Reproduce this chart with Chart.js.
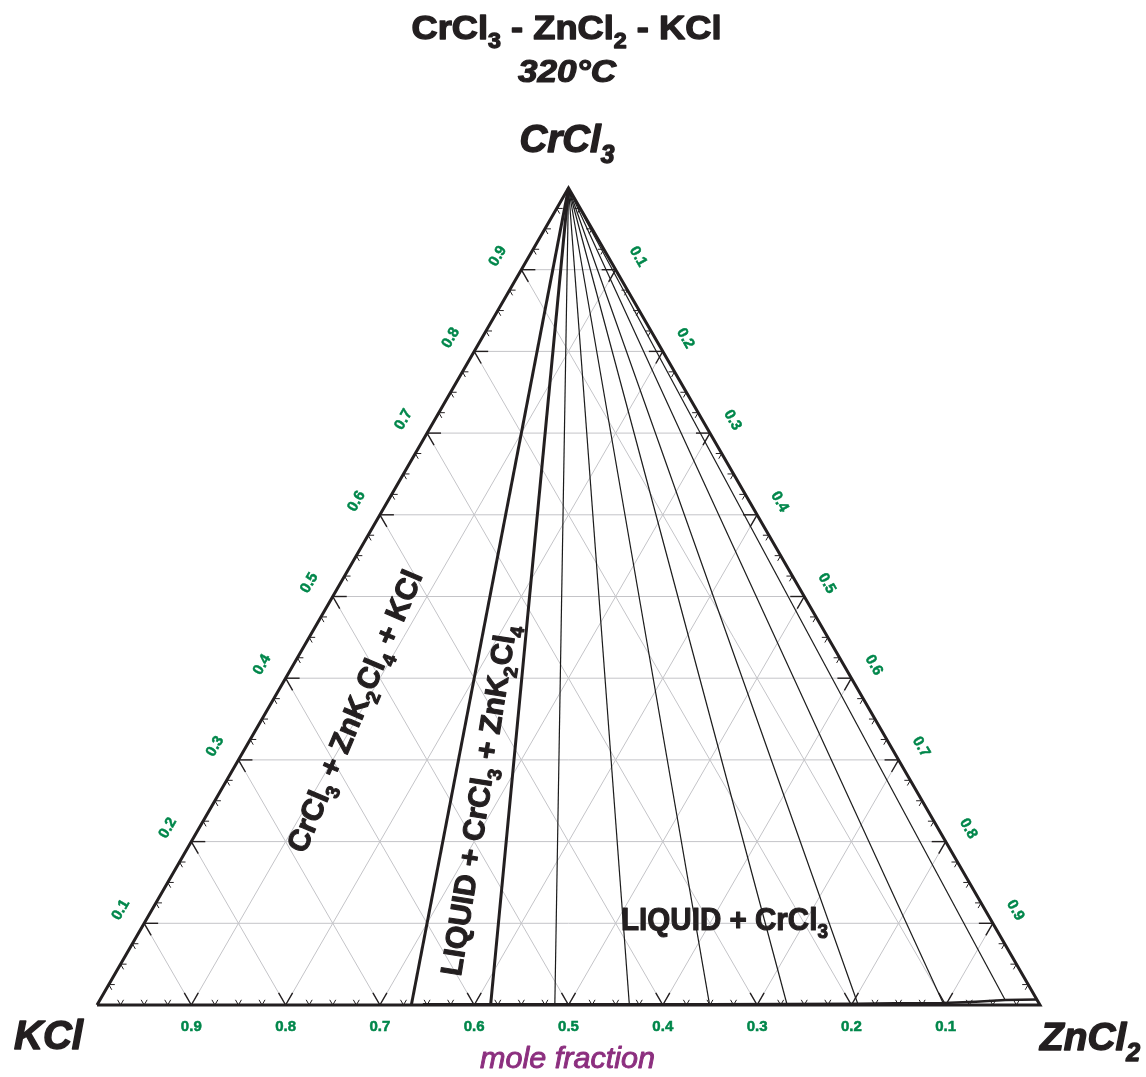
<!DOCTYPE html>
<html>
<head>
<meta charset="utf-8">
<script src="https://cdn.jsdelivr.net/npm/chart.js@4.4.1/dist/chart.umd.min.js"></script>
<style>
  html, body { margin: 0; padding: 0; background: #ffffff; }
  #wrap { width: 1146px; height: 1077px; }
</style>
</head>
<body>
<div id="wrap"><canvas id="c" width="1146" height="1077"></canvas></div>
<script>
// CrCl3 - ZnCl2 - KCl isothermal section at 320 °C
const H = Math.sqrt(3) / 2;

// grid / tick values (mole fraction)
const gridFractions = [0.1, 0.2, 0.3, 0.4, 0.5, 0.6, 0.7, 0.8, 0.9];
const bottomTickLabels = ['0.9', '0.8', '0.7', '0.6', '0.5', '0.4', '0.3', '0.2', '0.1']; // KCl, placed at ZnCl2 = 0.1 … 0.9
const leftTickLabels = ['0.1', '0.2', '0.3', '0.4', '0.5', '0.6', '0.7', '0.8', '0.9'];   // CrCl3 on KCl–CrCl3 side
const rightTickLabels = ['0.1', '0.2', '0.3', '0.4', '0.5', '0.6', '0.7', '0.8', '0.9'];  // ZnCl2 on CrCl3–ZnCl2 side
const minorStep = 0.025;

// liquid boundary near the KCl–ZnCl2 side (x ZnCl2, x CrCl3)
const liquidZn = [0.345, 0.417, 0.485, 0.564, 0.649, 0.731, 0.806, 0.845, 0.896, 0.930, 0.960, 0.993];
const liquidCr = [0.001, 0.001, 0.001, 0.001, 0.001, 0.0012, 0.0015, 0.002, 0.0025, 0.004, 0.0061, 0.0067];

// CrCl3 – liquid tie-lines (liquid end: x ZnCl2, x CrCl3)
const tieZn = [0.485, 0.564, 0.649, 0.731, 0.806, 0.896, 0.960];
const tieCr = [0.001, 0.001, 0.001, 0.0012, 0.0015, 0.0025, 0.0061];

// three-phase triangle CrCl3 + ZnK2Cl4 + LIQUID
const znk2cl4Zn = 1 / 3;
const invariantLiquidZn = 0.417;
const invariantLiquidCr = 0.001;

// composition -> cartesian (KCl at origin, ZnCl2 at x = 1, CrCl3 on top)
const P = (zn, cr) => ({ x: zn + cr / 2, y: cr * H });

const INK = '#231f20';
const GRID = '#c4c4c8';
const GREEN = '#00874b';
const PURPLE = '#8c2f7f';
const FAMILY = '"Liberation Sans", Arial, Helvetica, sans-serif';

function seg(points, color, width, order) {
  return {
    data: points, showLine: true, borderColor: color, borderWidth: width,
    pointRadius: 0, tension: 0, fill: false, clip: false, order: order,
    borderJoinStyle: 'miter', borderCapStyle: 'butt'
  };
}

const datasets = [];
gridFractions.forEach(f => {
  datasets.push(seg([P(0, f), P(1 - f, f)], GRID, 1, 5));      // constant CrCl3
  datasets.push(seg([P(f, 0), P(f, 1 - f)], GRID, 1, 5));      // constant ZnCl2
  datasets.push(seg([P(1 - f, 0), P(0, 1 - f)], GRID, 1, 5));  // constant KCl
});
tieZn.forEach((zn, i) => datasets.push(seg([P(0, 1), P(zn, tieCr[i])], '#1b1b1b', 1.2, 4)));
datasets.push(seg([P(0, 1), P(znk2cl4Zn, 0)], INK, 3, 2));
datasets.push(seg([P(0, 1), P(invariantLiquidZn, invariantLiquidCr)], INK, 3, 2));
datasets.push(seg(liquidZn.map((z, i) => P(z, liquidCr[i])), INK, 2.6, 2));
datasets.push(seg([P(0, 0), P(1, 0), P(0, 1), P(0, 0)], INK, 3, 1));

// text with subscripts; parts = [[text, isSub], ...]
function drawRich(ctx, parts, o) {
  const style = o.style || 'normal';
  const weight = o.weight || 'bold';
  const mainFont = `${style} ${weight} ${o.size}px ${FAMILY}`;
  const subFont = `${style} ${weight} ${o.size * 0.64}px ${FAMILY}`;
  let w = 0;
  const widths = parts.map(p => {
    ctx.font = p[1] ? subFont : mainFont;
    const m = ctx.measureText(p[0]).width;
    w += m;
    return m;
  });
  const sx = o.width ? o.width / w : 1;
  ctx.save();
  ctx.translate(o.x, o.y);
  if (o.rotate) ctx.rotate(o.rotate * Math.PI / 180);
  ctx.scale(sx, 1);
  ctx.fillStyle = o.color || INK;
  ctx.strokeStyle = o.color || INK;
  ctx.lineWidth = o.stroke === undefined ? 1.1 : o.stroke;
  ctx.lineJoin = 'round';
  ctx.textAlign = 'left';
  ctx.textBaseline = 'alphabetic';
  const base = o.middle ? o.size * 0.36 : 0;
  let x = o.align === 'left' ? 0 : -w / 2;
  parts.forEach((p, i) => {
    ctx.font = p[1] ? subFont : mainFont;
    const y = base + (p[1] ? o.size * 0.27 : 0);
    ctx.fillText(p[0], x, y);
    if (ctx.lineWidth > 0) ctx.strokeText(p[0], x, y);
    x += widths[i];
  });
  ctx.restore();
}

const decorations = {
  id: 'ternaryDecorations',
  afterDatasetsDraw(chart) {
    const ctx = chart.ctx;
    const xs = chart.scales.x, ys = chart.scales.y;
    const px = p => ({ x: xs.getPixelForValue(p.x), y: ys.getPixelForValue(p.y) });
    const c60 = 0.5, s60 = H;

    // edge ticks
    ctx.save();
    ctx.strokeStyle = INK;
    ctx.lineCap = 'butt';
    const nSteps = Math.round(1 / minorStep);
    const tick = (p, dirs, len, lw) => {
      ctx.lineWidth = lw;
      dirs.forEach(d => {
        ctx.beginPath();
        ctx.moveTo(p.x, p.y);
        ctx.lineTo(p.x + d[0] * len, p.y + d[1] * len);
        ctx.stroke();
      });
    };
    for (let i = 1; i < nSteps; i++) {
      const f = i * minorStep;
      const major = i % 4 === 0;
      const len = major ? 14 : 6;
      const lw = major ? 1.4 : 1;
      tick(px(P(f, 0)), [[-c60, -s60], [c60, -s60]], len, lw);        // KCl–ZnCl2 side
      tick(px(P(0, f)), [[1, 0], [c60, s60]], len, lw);                // KCl–CrCl3 side
      tick(px(P(f, 1 - f)), [[-1, 0], [-c60, s60]], len, lw);          // CrCl3–ZnCl2 side
    }
    ctx.restore();

    // tick labels
    ctx.save();
    ctx.fillStyle = GREEN;
    ctx.strokeStyle = GREEN;
    ctx.lineWidth = 0.5;
    ctx.font = `bold 15px ${FAMILY}`;
    ctx.textAlign = 'center';
    ctx.textBaseline = 'middle';
    const label = (t, x, y) => { ctx.fillText(t, x, y); ctx.strokeText(t, x, y); };
    gridFractions.forEach((f, i) => {
      const b = px(P(f, 0));
      label(bottomTickLabels[i], b.x, b.y + 22);

      const l = px(P(0, f));
      ctx.save();
      ctx.translate(l.x - 27 * s60, l.y - 27 * c60);
      ctx.rotate(-Math.PI / 3);
      label(leftTickLabels[i], 0, 0);
      ctx.restore();

      const r = px(P(f, 1 - f));
      ctx.save();
      ctx.translate(r.x + 26 * s60, r.y - 26 * c60);
      ctx.rotate(Math.PI / 3);
      label(rightTickLabels[i], 0, 0);
      ctx.restore();
    });
    ctx.restore();

    // phase-field labels
    const a = px({ x: 0.2725, y: 0.3117 });
    drawRich(ctx, [['CrCl'], ['3', 1], [' + ZnK'], ['2', 1], ['Cl'], ['4', 1], [' + KCl']],
      { x: a.x, y: a.y, size: 30, width: 303, rotate: -67, middle: true });
    const b = px({ x: 0.4040, y: 0.2174 });
    drawRich(ctx, [['LIQUID + CrCl'], ['3', 1], [' + ZnK'], ['2', 1], ['Cl'], ['4', 1]],
      { x: b.x, y: b.y, size: 30, width: 355, rotate: -81, middle: true });
    const c = px({ x: 0.6654, y: 0.0917 });
    drawRich(ctx, [['LIQUID + CrCl'], ['3', 1]],
      { x: c.x, y: c.y, size: 31, width: 207, middle: true });

    // component labels
    drawRich(ctx, [['CrCl'], ['3', 1]], { x: 567, y: 152, size: 39, width: 95, style: 'italic', stroke: 1.4 });
    drawRich(ctx, [['KCl']], { x: 48.5, y: 1049, size: 40, width: 69, style: 'italic', stroke: 1.4 });
    drawRich(ctx, [['ZnCl'], ['2', 1]], { x: 1090, y: 1050, size: 39, width: 100, style: 'italic', stroke: 1.4 });
    drawRich(ctx, [['mole fraction']], { x: 567.5, y: 1068, size: 29, width: 175, style: 'italic', weight: 'normal', color: PURPLE, stroke: 0.9 });

    // title
    drawRich(ctx, [['CrCl'], ['3', 1], [' - ZnCl'], ['2', 1], [' - KCl']], { x: 566.5, y: 39, size: 34, width: 310, stroke: 1.3 });
    drawRich(ctx, [['320°C']], { x: 567, y: 82, size: 32, width: 98, style: 'italic', stroke: 1.2 });
  }
};

new Chart(document.getElementById('c'), {
  type: 'scatter',
  data: { datasets },
  options: {
    responsive: false,
    animation: false,
    devicePixelRatio: 1,
    layout: { padding: { left: 97, right: 106, top: 188, bottom: 72 } },
    scales: {
      x: { type: 'linear', min: 0, max: 1, display: false },
      y: { type: 'linear', min: 0, max: H, display: false }
    },
    plugins: { legend: { display: false }, tooltip: { enabled: false }, title: { display: false } },
    events: []
  },
  plugins: [decorations]
});
</script>
</body>
</html>
